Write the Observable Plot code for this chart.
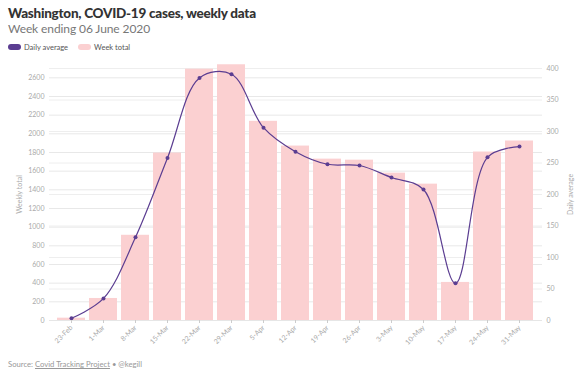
<!DOCTYPE html>
<html>
<head>
<meta charset="utf-8">
<script src="https://cdn.jsdelivr.net/npm/d3@7"></script>
<script src="https://cdn.jsdelivr.net/npm/@observablehq/plot@0.6"></script>
<style>
  html, body { margin: 0; padding: 0; background: #fff; }
  body { width: 580px; height: 377px; position: relative; overflow: hidden; font-family: Lato, "Open Sans", sans-serif; }
  #title { position: absolute; left: 8px; top: 5px; font-size: 13.5px; line-height: 16px; font-weight: 900; color: #333; letter-spacing: -0.25px; }
  #subtitle { position: absolute; left: 8px; top: 21px; font-size: 12px; line-height: 15px; color: #777; letter-spacing: -0.1px; }
  #legend { position: absolute; left: 8px; top: 42px; height: 10px; font-size: 7.5px; color: #555; display: flex; align-items: center; }
  .sw { display: inline-block; width: 13px; height: 6px; border-radius: 3px; margin-right: 3px; }
  .item { display: flex; align-items: center; margin-right: 10px; }
  #chart { position: absolute; left: 0; top: 56px; }
  #caption { position: absolute; left: 8px; top: 359px; font-size: 7.7px; color: #999; }
  #caption u { text-decoration: underline; }
</style>
</head>
<body>
<div id="title">Washington, COVID-19 cases, weekly data</div>
<div id="subtitle">Week ending 06 June 2020</div>
<div id="legend">
  <span class="item"><span class="sw" style="background:#5b3d91"></span>Daily average</span>
  <span class="item"><span class="sw" style="background:#fbd0d1"></span>Week total</span>
</div>
<div id="chart"></div>
<div id="caption">Source: <u>Covid Tracking Project</u> • @kegill</div>
<script>
const weeks = ["23-Feb","1-Mar","8-Mar","15-Mar","22-Mar","29-Mar","5-Apr","12-Apr","19-Apr","26-Apr","3-May","10-May","17-May","24-May","31-May"];
const weekTotal = [25, 236, 913, 1794, 2693, 2740, 2134, 1869, 1729, 1718, 1579, 1461, 408, 1805, 1923];
const dailyAvg = [3.6, 35, 132, 258, 385, 391, 306, 268, 248, 246, 227, 208, 59, 259, 276];
const leftTicks = d3.range(0, 2601, 200);
const rightTicks = d3.range(0, 401, 50);

const leftMax = 2700, rightMax = 400;
const k = leftMax / rightMax;

const data = weeks.map((w, i) => ({week: w, total: weekTotal[i], avg: dailyAvg[i] * k}));

const chart = Plot.plot({
  width: 580,
  height: 300,
  marginTop: 12,
  marginBottom: 36,
  marginLeft: 49,
  marginRight: 38,
  style: {fontFamily: "Lato, sans-serif", fontSize: "7px", color: "#999"},
  x: {domain: weeks, paddingInner: 0.12, paddingOuter: 0.05},
  y: {domain: [0, leftMax]},
  marks: [
    Plot.gridY(leftTicks, {stroke: "#e8e8e8", strokeOpacity: 1}),
    Plot.gridY(rightTicks.map(v => v * k), {stroke: "#eeeeee", strokeOpacity: 1}),
    Plot.barY(data, {x: "week", y: "total", fill: "#fbd0d1"}),
    Plot.ruleY([0], {stroke: "#e6e6e6"}),
    Plot.line(data, {x: "week", y: "avg", stroke: "#5b3d91", strokeWidth: 1.2, curve: "catmull-rom"}),
    Plot.dot(data, {x: "week", y: "avg", fill: "#5b3d91", r: 2}),
    Plot.axisX({tickRotate: -45, tickSize: 3, stroke: "#ccc", fill: "#aaa", label: null, tickPadding: 3}),
    Plot.axisY(leftTicks, {anchor: "left", tickSize: 0, tickPadding: 5, fill: "#aaa", tickFormat: d3.format("d"), label: "Weekly total", labelAnchor: "center", labelOffset: 32, labelArrow: "none"}),
    Plot.axisY(rightTicks.map(v => v * k), {anchor: "right", tickSize: 0, tickPadding: 4, fill: "#aaa", tickFormat: v => String(Math.round(v / k)), label: "Daily average", labelAnchor: "center", labelOffset: 30, labelArrow: "none"})
  ]
});
document.getElementById("chart").appendChild(chart);
</script>
</body>
</html>
